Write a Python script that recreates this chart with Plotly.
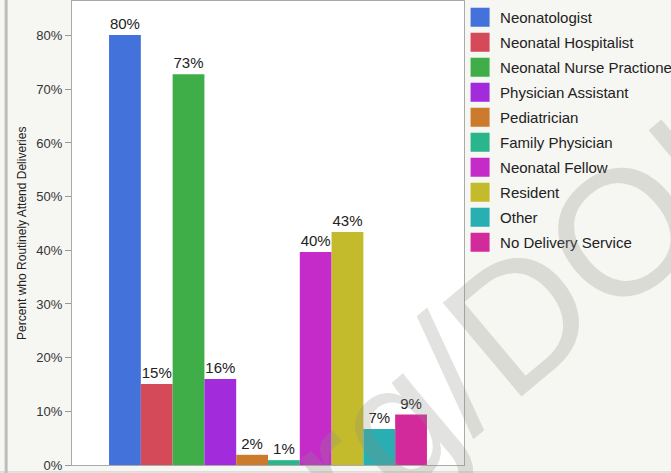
import plotly.graph_objects as go

categories = ["Neonatologist", "Neonatal Hospitalist", "Neonatal Nurse Practioner",
              "Physician Assistant", "Pediatrician", "Family Physician",
              "Neonatal Fellow", "Resident", "Other", "No Delivery Service"]
values = [80.1, 15.1, 72.8, 16.0, 1.9, 0.9, 39.7, 43.4, 6.7, 9.4]
colors = ["#4472db", "#d44a58", "#3fae48", "#a22bdb", "#cc7a2b",
          "#2bb58c", "#c42bc8", "#c3bb2b", "#29aeb1", "#d22a9b"]
y_title = "Percent who Routinely Attend Deliveries"

fig = go.Figure()
for name, val, col in zip(categories, values, colors):
    fig.add_trace(go.Bar(
        x=["All"], y=[val], name=name, marker=dict(color=col, line=dict(width=0)),
        texttemplate="%{y:.0f}%", textposition="outside", cliponaxis=False,
        textfont=dict(size=15, color="#222222", family="Liberation Sans, Arial"),
        showlegend=False, hoverinfo="skip"))
for name, col in zip(categories, colors):
    fig.add_trace(go.Scatter(
        x=[None], y=[None], mode="markers", name=name, legendgroup=name,
        marker=dict(symbol="square", size=16, color=col, line=dict(color=col, width=3))))

fig.update_layout(
    width=671, height=473,
    margin=dict(l=72, r=207, t=1, b=8, autoexpand=False),
    paper_bgcolor="#f6f6f2", plot_bgcolor="#ffffff",
    barmode="group", bargap=0.189, bargroupgap=0,
    font=dict(family="Liberation Sans, Arial", color="#333333"),
    legend=dict(x=0.99, y=1.0, xanchor="left", yanchor="top",
                bgcolor="rgba(0,0,0,0)", font=dict(size=15, color="#222222"),
                tracegroupgap=2.5, itemsizing="trace"),
    xaxis=dict(showticklabels=False, ticks="", showgrid=False, zeroline=False,
               showline=True, linecolor="#aaaaaa", mirror=True, range=[-0.5, 0.5]),
    yaxis=dict(range=[0, 86.45], tick0=0, dtick=10, ticksuffix="%", showgrid=False,
               zeroline=False, ticks="outside", ticklen=6, tickcolor="#999999",
               tickfont=dict(size=13, color="#333333"),
               showline=True, linecolor="#aaaaaa", mirror=True),
    showlegend=True,
)

# y-axis title
fig.add_annotation(xref="paper", yref="paper", x=-0.1276, y=0.5, xanchor="center", yanchor="middle",
                   text=y_title, showarrow=False, textangle=-90,
                   font=dict(size=12, color="#222222"))

# frame decorations
fig.add_shape(type="line", xref="paper", yref="paper", x0=-0.168, x1=-0.168, y0=-0.02, y1=1.01,
              line=dict(color="#bdbdbd", width=3))
fig.add_shape(type="line", xref="paper", yref="paper", x0=-0.2, x1=1.6, y0=-0.015, y1=-0.015,
              line=dict(color="#c8c8c8", width=1))

# watermark
fig.add_annotation(xref="paper", yref="paper", x=1.028, y=0.235, xanchor="center", yanchor="middle",
                   text="org/DOI", showarrow=False, textangle=-40,
                   font=dict(size=178, color="rgba(140,140,130,0.25)",
                             family="Liberation Sans, Arial"))

fig.write_html("out.html", config={"displayModeBar": False},
               post_script="document.body.style.margin='0';")
